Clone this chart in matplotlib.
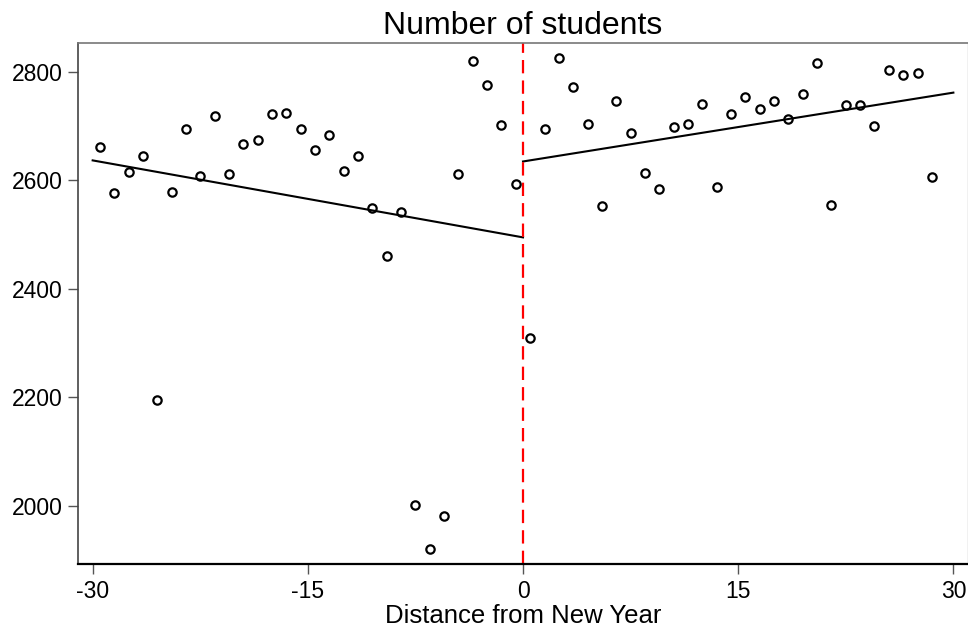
import matplotlib
matplotlib.use("Agg")
import matplotlib.pyplot as plt

plt.rcParams['font.family'] = ['Liberation Sans', 'DejaVu Sans']

# days before / after New Year (bin midpoints)
x_before = [-29.5, -28.5, -27.5, -26.5, -25.5, -24.5, -23.5, -22.5, -21.5, -20.5,
            -19.5, -18.5, -17.5, -16.5, -15.5, -14.5, -13.5, -12.5, -11.5, -10.5,
            -9.5, -8.5, -7.5, -6.5, -5.5, -4.5, -3.5, -2.5, -1.5, -0.5]
y_before = [2661, 2577, 2615, 2646, 2195, 2579, 2694, 2608, 2718, 2612,
            2668, 2675, 2722, 2725, 2694, 2657, 2684, 2618, 2646, 2549,
            2460, 2542, 2002, 1920, 1982, 2612, 2820, 2776, 2703, 2593]

x_after = [0.5, 1.5, 2.5, 3.5, 4.5, 5.5, 6.5, 7.5, 8.5, 9.5,
           10.5, 11.5, 12.5, 13.5, 14.5, 15.5, 16.5, 17.5, 18.5, 19.5,
           20.5, 21.5, 22.5, 23.5, 24.5, 25.5, 26.5, 27.5, 28.5]
y_after = [2310, 2694, 2826, 2772, 2705, 2553, 2746, 2687, 2614, 2584,
           2699, 2705, 2741, 2588, 2722, 2754, 2731, 2746, 2714, 2759,
           2817, 2555, 2739, 2739, 2701, 2804, 2794, 2798, 2607]

# linear fits on each side
fit_x_before = [-30, 0]
fit_y_before = [2637, 2495]
fit_x_after = [0, 30]
fit_y_after = [2635, 2762]

x_ticks = [-30, -15, 0, 15, 30]
y_ticks = [2000, 2200, 2400, 2600, 2800]

fig = plt.figure(figsize=(9.68, 6.31), dpi=100)
ax = fig.add_axes([0.0809, 0.1057, 0.9188, 0.8257])

ax.plot(x_before, y_before, 'o', ms=6.0, mfc='none', mec='black', mew=1.6, zorder=3)
ax.plot(x_after, y_after, 'o', ms=6.0, mfc='none', mec='black', mew=1.6, zorder=3)
ax.plot(fit_x_before, fit_y_before, color='black', lw=1.5)
ax.plot(fit_x_after, fit_y_after, color='black', lw=1.5)
ax.axvline(0, color='red', lw=1.6, ls=(0, (6, 3.2)), zorder=2)

ax.set_xlim(-31, 31)
ax.set_ylim(1892, 2853)
ax.set_xticks(x_ticks)
ax.set_xticklabels([str(t) for t in x_ticks])
ax.set_yticks(y_ticks)
ax.tick_params(axis='both', labelsize=16.5, length=7, width=1, color='#555555', pad=4)

ax.spines['bottom'].set_color('black')
ax.spines['bottom'].set_linewidth(1.6)
ax.spines['left'].set_color('#444444')
ax.spines['left'].set_linewidth(1.2)
ax.spines['top'].set_color('#777777')
ax.spines['top'].set_linewidth(1.2)
ax.spines['right'].set_color('#bbbbbb')
ax.spines['right'].set_linewidth(1.0)

ax.set_xlabel('Distance from New Year', fontsize=18.5, labelpad=1)
ax.set_title('Number of students', fontsize=23, pad=7)

fig.savefig('out.png', dpi=100)
